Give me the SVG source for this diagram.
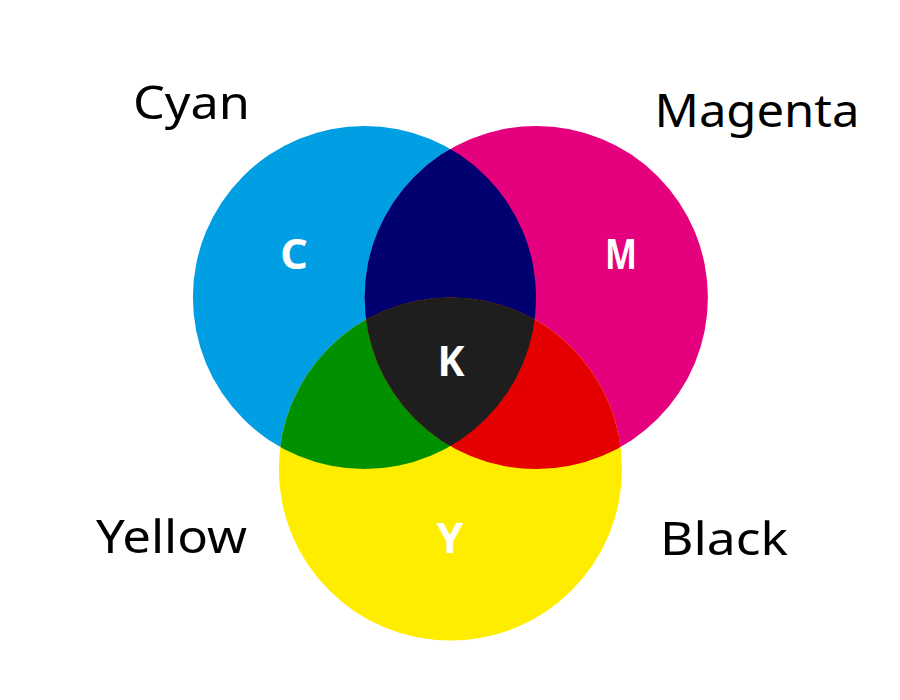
<svg xmlns="http://www.w3.org/2000/svg" width="900" height="700" viewBox="0 0 900 700">
  <style>
    .lbl { font-family: "Noto Sans", "Liberation Sans", sans-serif; font-size: 46px; fill: #000; text-anchor: middle; }
    .ink { font-family: "Open Sans", "Noto Sans", "Liberation Sans", sans-serif; font-size: 41px; font-weight: 700; fill: #fff; text-anchor: middle; }
  </style>
  <defs>
    <clipPath id="clipC"><circle cx="364.5" cy="297.5" r="171.6"/></clipPath>
    <clipPath id="clipM"><circle cx="536.3" cy="297.5" r="171.6"/></clipPath>
  </defs>
  <rect width="900" height="700" fill="#fff"/>
  <g id="cyan">
    <circle cx="364.5" cy="297.5" r="171.6" fill="#009FE3"/>
  </g>
  <g id="magenta">
    <circle cx="536.3" cy="297.5" r="171.6" fill="#E5007E"/>
  </g>
  <g id="yellow">
    <circle cx="450.4" cy="469" r="171.6" fill="#FFED00"/>
  </g>
  <g id="overlaps">
    <circle cx="536.3" cy="297.5" r="171.6" fill="#000070" clip-path="url(#clipC)"/>
    <circle cx="450.4" cy="469" r="171.6" fill="#009000" clip-path="url(#clipC)"/>
    <circle cx="450.4" cy="469" r="171.6" fill="#E40000" clip-path="url(#clipM)"/>
    <g clip-path="url(#clipC)">
      <circle cx="450.4" cy="469" r="171.6" fill="#1E1E1E" clip-path="url(#clipM)"/>
    </g>
  </g>
  <g id="letters">
    <text class="ink" x="294" y="269" textLength="28" lengthAdjust="spacingAndGlyphs">C</text>
    <text class="ink" x="621" y="269" textLength="32" lengthAdjust="spacingAndGlyphs">M</text>
    <text class="ink" x="451" y="376" textLength="27" lengthAdjust="spacingAndGlyphs">K</text>
    <text class="ink" x="450" y="553" textLength="27" lengthAdjust="spacingAndGlyphs">Y</text>
  </g>
  <g id="labels">
    <text class="lbl" x="191.5" y="119" textLength="117" lengthAdjust="spacingAndGlyphs">Cyan</text>
    <text class="lbl" x="757" y="127" textLength="205" lengthAdjust="spacingAndGlyphs">Magenta</text>
    <text class="lbl" x="171.5" y="553" textLength="151" lengthAdjust="spacingAndGlyphs">Yellow</text>
    <text class="lbl" x="724" y="555" textLength="128" lengthAdjust="spacingAndGlyphs">Black</text>
  </g>
</svg>
